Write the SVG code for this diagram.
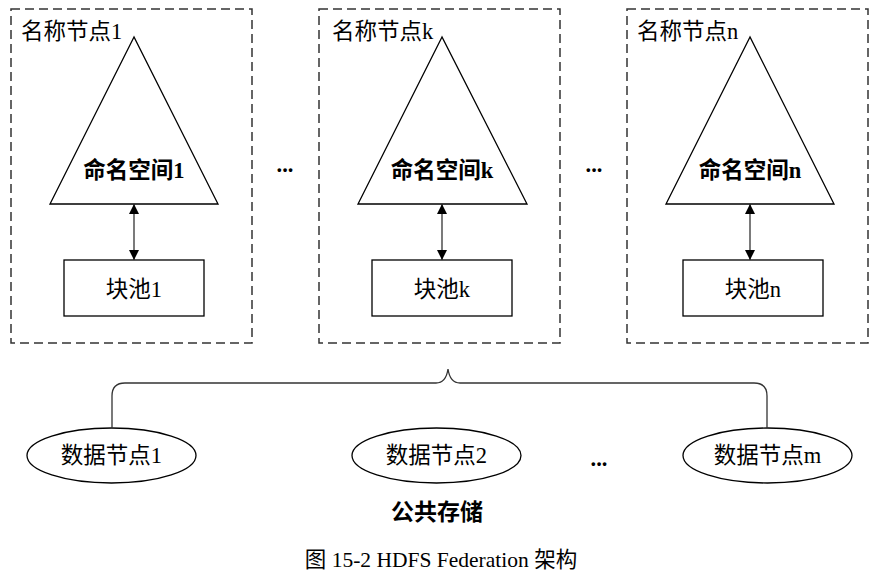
<svg xmlns="http://www.w3.org/2000/svg" width="889" height="574" viewBox="0 0 889 574">
<style>
.t{font-family:"Liberation Serif","Noto Sans CJK SC",serif;font-size:22.5px;fill:#000}
.b{font-family:"Liberation Serif","Noto Sans CJK SC",serif;font-size:22.5px;font-weight:bold;fill:#000}
.dash{fill:none;stroke:#333;stroke-width:1.5;stroke-dasharray:9,5}
.sh{fill:#fff;stroke:#000;stroke-width:1.3}
.ln{fill:none;stroke:#333;stroke-width:1.3}
</style>
<defs>
<marker id="ah" viewBox="0 0 10 10" refX="10" refY="5" markerWidth="10" markerHeight="10" markerUnits="userSpaceOnUse" orient="auto-start-reverse">
<path d="M0,0 L10,5 L0,10 z" fill="#000"/>
</marker>
</defs>
<rect width="889" height="574" fill="#fff"/>
<g id="namenode1">
<rect class="dash" x="11" y="9" width="241" height="334"/>
<text class="t" x="21" y="39">名称节点1</text>
<polygon class="sh" points="134,37 50,204 218,204"/>
<text class="b" x="134" y="178" text-anchor="middle">命名空间1</text>
<rect class="sh" x="64" y="260" width="140" height="56"/>
<text class="t" x="134" y="297" text-anchor="middle">块池1</text>
</g>
<g id="namenodek">
<rect class="dash" x="319" y="9" width="241" height="334"/>
<text class="t" x="332" y="39">名称节点k</text>
<polygon class="sh" points="442,37 358,204 527,204"/>
<text class="b" x="442" y="178" text-anchor="middle">命名空间k</text>
<rect class="sh" x="372" y="260" width="140" height="56"/>
<text class="t" x="442" y="297" text-anchor="middle">块池k</text>
</g>
<g id="namenoden">
<rect class="dash" x="627" y="9" width="241" height="334"/>
<text class="t" x="637" y="39">名称节点n</text>
<polygon class="sh" points="750,37 666,204 834,204"/>
<text class="b" x="750" y="178" text-anchor="middle">命名空间n</text>
<rect class="sh" x="683" y="260" width="140" height="56"/>
<text class="t" x="753" y="297" text-anchor="middle">块池n</text>
</g>
<g id="dots">
<text class="b" x="285" y="172" text-anchor="middle">...</text>
<text class="b" x="594" y="172" text-anchor="middle">...</text>
<text class="b" x="599" y="466" text-anchor="middle">...</text>
</g>
<g id="datanode1">
<ellipse class="sh" cx="111.5" cy="455.5" rx="84.5" ry="27.5"/>
<text class="t" x="111.5" y="463" text-anchor="middle">数据节点1</text>
</g>
<g id="datanode2">
<ellipse class="sh" cx="436.5" cy="455.5" rx="84.5" ry="27.5"/>
<text class="t" x="436.5" y="463" text-anchor="middle">数据节点2</text>
</g>
<g id="datanodem">
<ellipse class="sh" cx="767.5" cy="455.5" rx="84.5" ry="27.5"/>
<text class="t" x="767.5" y="463" text-anchor="middle">数据节点m</text>
</g>
<g id="connectors">
<line class="ln" x1="134" y1="204" x2="134" y2="260" marker-start="url(#ah)" marker-end="url(#ah)"/>
<line class="ln" x1="442" y1="204" x2="442" y2="260" marker-start="url(#ah)" marker-end="url(#ah)"/>
<line class="ln" x1="750" y1="204" x2="750" y2="260" marker-start="url(#ah)" marker-end="url(#ah)"/>
<path class="ln" d="M112,428 L112,396 Q112,383 125,383 L436,383 Q446,383 448,369 Q450,383 460,383 L754,383 Q767,383 767,396 L767,428"/>
</g>
<text class="b" x="437" y="520" text-anchor="middle" style="font-size:23px">公共存储</text>
<text class="t" x="441" y="567" text-anchor="middle" style="font-size:21.5px">图 15-2 HDFS Federation 架构</text>
</svg>
